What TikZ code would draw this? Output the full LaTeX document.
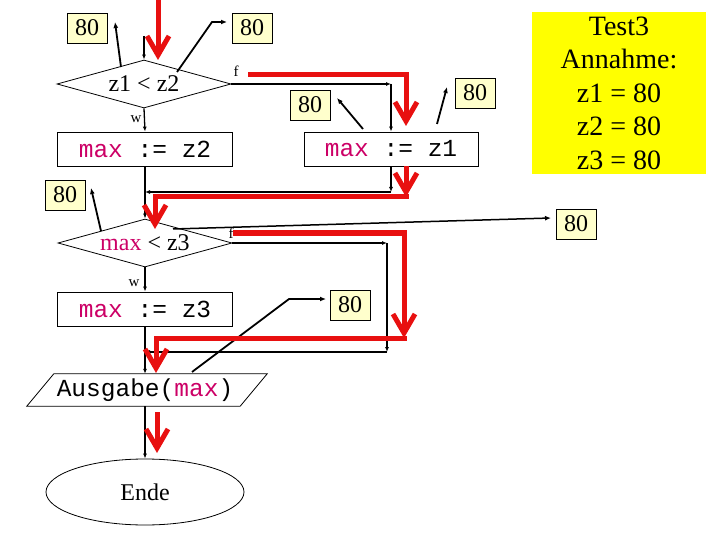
\documentclass[tikz,border=0pt]{standalone}
\usepackage{fontspec}
\setmainfont{Liberation Serif}
\setmonofont{Liberation Mono}
\usetikzlibrary{shapes.geometric,arrows.meta,calc}
\definecolor{redarr}{RGB}{232,16,16}
\definecolor{mag}{RGB}{204,0,102}
\definecolor{lightyel}{RGB}{255,255,204}
\definecolor{hl}{RGB}{255,255,0}
\begin{document}
\begin{tikzpicture}[x=1pt,y=-1pt,
 flow/.style={line width=1.3pt,-{Latex[length=5pt,width=4pt]}},
 ptr/.style={line width=1.8pt,-{Latex[length=6pt,width=5pt]}},
 redarrow/.style={draw=redarr,line width=5pt,line join=miter,-{Straight Barb[length=19pt,width=22pt]}},
 redline/.style={draw=redarr,line width=5pt,line join=miter},
 dia/.style={diamond,draw,line width=0.8pt,inner sep=0pt,minimum width=174pt,minimum height=48pt,aspect=3.6,font=\fontsize{24}{26}\selectfont},
 box/.style={rectangle,draw,line width=0.8pt,minimum width=175pt,minimum height=34pt,inner sep=0pt,font=\ttfamily\fontsize{24.5}{26}\selectfont},
 val/.style={rectangle,draw,line width=0.8pt,fill=lightyel,minimum width=40pt,minimum height=30pt,inner sep=0pt,font=\fontsize{24}{26}\selectfont},
 lab/.style={font=\fontsize{15}{16}\selectfont,inner sep=0pt}]
\useasboundingbox (0,0) rectangle (720,540);

% shapes
\node[dia] (d1) at (144,84) {z1 < z2};
\node[box] (b2) at (145,149) {\textcolor{mag}{max} := z2};
\node[box,minimum width=174pt] (b1) at (391,149) {\textcolor{mag}{max} := z1};
\node[dia] (d2) at (145,243) {\textcolor{mag}{max} < z3};
\node[box] (b3) at (145,309) {\textcolor{mag}{max} := z3};
\node[font=\ttfamily\fontsize{24.5}{26}\selectfont,minimum width=213pt,minimum height=32pt,inner sep=0pt] (out) at (145,390) {Ausgabe(\textcolor{mag}{max})};
\draw[line width=0.8pt] ($(out.north west)+(15.5,0)$) -- ($(out.north east)+(15.5,0)$) -- ($(out.south east)+(-11.5,0)$) -- ($(out.south west)+(-11.5,0)$) -- cycle;
\node[ellipse,draw,line width=0.8pt,minimum width=198pt,minimum height=66pt,inner sep=0pt,font=\fontsize{24}{26}\selectfont] (ende) at (145,492) {Ende};

% note
\node[fill=hl,minimum width=174pt,minimum height=162pt,inner sep=0pt,align=center,font=\fontsize{28}{33.5}\selectfont] (note) at (619,93) {Test3\\Annahme:\\z1 = 80\\z2 = 80\\z3 = 80};

% labels
\node[lab] (w1) at (136,119) {w};
\node[lab] (f1) at (236,71) {f};
\node[lab] (w2) at (134,283) {w};
\node[lab] (f2) at (231,233) {f};

% value boxes
\node[val] (v1) at (87,28) {80};
\node[val] (v2) at (252,28) {80};
\node[val] (v3) at (310,105) {80};
\node[val] (v4) at (475,93) {80};
\node[val] (v5) at (65,195) {80};
\node[val] (v6) at (576,224) {80};
\node[val] (v7) at (350,305) {80};

% coordinates
\coordinate (top) at (144,36);
\coordinate (c1) at (391,84);
\coordinate (j1) at (145,192);
\coordinate (c3) at (387,243);
\coordinate (c4) at (387,352);
\coordinate (j2) at (145,352);

% black flow
\draw[flow] (top) -- (d1.north);
\draw[flow] (d1.south) -- (b2.north);
\draw[flow] (d1.east) -- (c1);
\draw[flow] (c1) -- (b1.north);
\draw[flow] (b1.south) -- (b1.south |- j1);
\draw[flow] (b1.south |- j1) -- (j1);
\draw[flow] (b2.south) -- (d2.north);
\draw[flow] (d2.south) -- (b3.north);
\draw[flow] (d2.east) -- (c3);
\draw[flow] (c3) -- (c4);
\draw[flow] (c4) -- (j2);
\draw[flow] (b3.south) -- (out.north);
\draw[flow] (out.south) -- (ende.north);

% pointers
\coordinate (p1s) at (121,67); \coordinate (p1e) at (115,22);
\coordinate (p2s) at (177,72); \coordinate (p2m) at (212,22); \coordinate (p2e) at (227,22);
\coordinate (p3s) at (363,129); \coordinate (p3e) at (337,98);
\coordinate (p4s) at (437,124); \coordinate (p4e) at (447,87);
\coordinate (p5s) at (101,231); \coordinate (p5e) at (91,188);
\coordinate (p6s) at (173,229); \coordinate (p6e) at (551,218);
\coordinate (p7s) at (192,372); \coordinate (p7m) at (289,299); \coordinate (p7e) at (326,299);
\draw[ptr] (p1s) -- (p1e);
\draw[ptr] (p2s) -- (p2m) -- (p2e);
\draw[ptr] (p3s) -- (p3e);
\draw[ptr] (p4s) -- (p4e);
\draw[ptr] (p5s) -- (p5e);
\draw[line width=1.5pt,-{Latex[length=6pt,width=5pt]}] (p6s) -- (p6e);
\draw[ptr] (p7s) -- (p7m) -- (p7e);

% red path
\coordinate (r1a) at (158,0); \coordinate (r1b) at (158,60);
\coordinate (r2a) at (248,75); \coordinate (r2b) at (406,75); \coordinate (r2c) at (406,126);
\coordinate (r3a) at (406,166); \coordinate (r3b) at (406,197); \coordinate (r3c) at (155,197); \coordinate (r3d) at (155,229);
\coordinate (r4a) at (233,233); \coordinate (r4b) at (404,233); \coordinate (r4c) at (404,338);
\coordinate (r5c) at (156,338); \coordinate (r5d) at (156,373);
\coordinate (r6a) at (157,412); \coordinate (r6b) at (157,453);
\draw[redarrow] (r1a) -- (r1b);
\draw[redarrow] (r2a) -- (r2b) -- (r2c);
\draw[redarrow] (r3a) -- (r3b);
\draw[redarrow] ($(r3b)+(2.5,0)$) -- (r3c) -- (r3d);
\draw[redarrow] (r4a) -- (r4b) -- (r4c);
\draw[redarrow] ($(r4c)+(2.5,0)$) -- (r5c) -- (r5d);
\draw[redarrow] (r6a) -- (r6b);
\end{tikzpicture}
\end{document}
